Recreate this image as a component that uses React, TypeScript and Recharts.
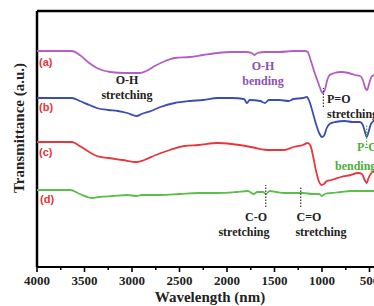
import React from 'react';
import { LineChart, Line, XAxis, YAxis, ReferenceLine } from 'recharts';

// Wavelength axis ticks (nm) – major labelled, minor unlabelled
const majorTicks = [4000, 3500, 3000, 2500, 2000, 1500, 1000, 500];
const allTicks = [4000, 3750, 3500, 3250, 3000, 2750, 2500, 2250, 2000, 1750, 1500, 1250, 1000, 750, 500];

// Series (a) – purple
const waveA = [4000, 3632, 3550, 3450, 3370, 3230, 3075, 2917, 2850, 2760, 2650, 2550, 2390, 2250, 2100, 1950, 1800, 1740, 1710, 1680, 1600, 1450, 1300, 1180, 1150, 1120, 1080, 1050, 1020, 995, 970, 945, 920, 870, 800, 720, 650, 600, 570, 545, 525, 505, 480, 450, 400];
const valA = [216, 216, 212, 204, 199, 195, 194, 194, 196, 201, 206, 209, 210, 212, 214, 215, 215, 214, 212, 214, 215, 215, 216, 216, 215, 207, 195, 187, 179, 174, 177, 187, 192, 194, 195, 194, 192, 191, 187, 179, 177, 183, 190, 192, 193];

// Series (b) – blue
const waveB = [4000, 3632, 3550, 3450, 3370, 3250, 3150, 3050, 2950, 2900, 2800, 2700, 2550, 2390, 2250, 2100, 1950, 1820, 1790, 1760, 1650, 1600, 1560, 1450, 1350, 1300, 1200, 1160, 1130, 1090, 1060, 1030, 1000, 975, 950, 920, 860, 760, 680, 600, 570, 545, 530, 510, 485, 450, 400];
const valB = [169, 169, 166, 162, 159, 157, 156, 154, 151, 153, 156, 160, 164, 166, 167, 169, 169, 168, 164, 167, 166, 164, 167, 167, 166, 168, 169, 170, 165, 152, 142, 134, 130, 132, 139, 143, 145, 146, 145, 145, 142, 134, 130, 135, 143, 146, 147];

// Series (c) – red
const waveC = [4000, 3632, 3550, 3450, 3370, 3250, 3100, 2950, 2870, 2750, 2600, 2450, 2300, 2100, 1950, 1800, 1700, 1550, 1400, 1300, 1200, 1150, 1120, 1090, 1060, 1030, 1005, 980, 950, 900, 800, 700, 620, 580, 550, 530, 510, 480, 450, 400];
const valC = [125, 125, 121, 115, 111, 109, 107, 105, 107, 112, 117, 121, 122, 124, 123, 121, 119, 117, 117, 120, 122, 124, 121, 109, 95, 85, 82, 83, 86, 87, 90, 92, 94, 93, 87, 84, 89, 94, 96, 97];

// Series (d) – green
const waveD = [4000, 3650, 3550, 3420, 3350, 3200, 3050, 2950, 2900, 2700, 2500, 2300, 2100, 1900, 1780, 1720, 1680, 1620, 1590, 1550, 1480, 1400, 1300, 1200, 1100, 1030, 1000, 970, 900, 800, 700, 600, 500, 400];
const valD = [77, 77, 73, 69, 70, 71, 72, 71, 72, 72, 73, 74, 74, 75, 76, 73, 75, 75, 73, 76, 75, 74, 74, 74, 73, 73, 71, 73, 74, 75, 76, 76, 76, 76];

// Band marker positions (nm) and extents (a.u.)
const markerPO = { w: 985, y1: 160, y2: 179 };
const markerPObend = { w: 530, y1: 122, y2: 142 };
const markerCO = { w: 1592, y1: 60, y2: 82 };
const markerCeqO = { w: 1224, y1: 60, y2: 80 };

const toData = (w: number[], v: number[]) => w.map((x, i) => ({ w: x, v: v[i] }));
const dataA = toData(waveA, valA);
const dataB = toData(waveB, valB);
const dataC = toData(waveC, valC);
const dataD = toData(waveD, valD);

const SERIF = "'Liberation Serif', 'Times New Roman', serif";
const SANS = "'Liberation Sans', Arial, sans-serif";

const Tick = (props: any) => {
  const { x, y, payload } = props;
  const major = majorTicks.includes(payload.value);
  return (
    <g>
      <line x1={x} y1={y} x2={x} y2={y + (major ? 5 : 3)} stroke="#000" strokeWidth={1.6} />
      {major && (
        <text x={x} y={y + 18} textAnchor="middle" fontFamily={SERIF} fontWeight="bold" fontSize={13} fill="#222">
          {payload.value}
        </text>
      )}
    </g>
  );
};

export default function App() {
  return (
    <div style={{ position: 'absolute', left: 0, top: 0, width: 374, height: 306, overflow: 'hidden', background: '#fff' }}>
      <LineChart width={400} height={306} margin={{ top: 11, left: 37, right: 21, bottom: 9 }}>
        <XAxis
          type="number"
          dataKey="w"
          domain={[400, 4000]}
          reversed
          allowDataOverflow
          ticks={allTicks}
          interval={0}
          tickLine={false}
          tickSize={0}
          tickMargin={0}
          tick={<Tick />}
          height={30}
          axisLine={{ stroke: '#000', strokeWidth: 2 }}
        />
        <YAxis
          type="number"
          dataKey="v"
          domain={[0, 256]}
          allowDataOverflow
          width={0}
          tick={false}
          tickLine={false}
          axisLine={false}
        />
        <ReferenceLine y={256} stroke="#000" strokeWidth={2.5} />
        <ReferenceLine x={4000} stroke="#000" strokeWidth={2.5} />
        <Line data={dataA} dataKey="v" stroke="#b25ec6" strokeWidth={1.8} dot={false} isAnimationActive={false} type="monotone" />
        <Line data={dataB} dataKey="v" stroke="#3b4db3" strokeWidth={1.8} dot={false} isAnimationActive={false} type="monotone" />
        <Line data={dataC} dataKey="v" stroke="#e8363c" strokeWidth={1.8} dot={false} isAnimationActive={false} type="monotone" />
        <Line data={dataD} dataKey="v" stroke="#5dbd4b" strokeWidth={1.8} dot={false} isAnimationActive={false} type="monotone" />
        <ReferenceLine segment={[{ x: markerPO.w, y: markerPO.y1 }, { x: markerPO.w, y: markerPO.y2 }]} stroke="#333" strokeWidth={1.2} strokeDasharray="1.5 1.5" />
        <ReferenceLine segment={[{ x: markerPObend.w, y: markerPObend.y1 }, { x: markerPObend.w, y: markerPObend.y2 }]} stroke="#4caf3a" strokeWidth={1.2} strokeDasharray="1.5 1.5" />
        <ReferenceLine segment={[{ x: markerCO.w, y: markerCO.y1 }, { x: markerCO.w, y: markerCO.y2 }]} stroke="#333" strokeWidth={1.2} strokeDasharray="1.5 1.5" />
        <ReferenceLine segment={[{ x: markerCeqO.w, y: markerCeqO.y1 }, { x: markerCeqO.w, y: markerCeqO.y2 }]} stroke="#333" strokeWidth={1.2} strokeDasharray="1.5 1.5" />
      </LineChart>
      <svg width={374} height={306} style={{ position: 'absolute', left: 0, top: 0, pointerEvents: 'none' }}>
        <text x={19} y={128} transform="rotate(-90 19 128)" textAnchor="middle" dominantBaseline="central" fontFamily={SERIF} fontWeight="bold" fontSize={15} fill="#222">
          Transmittance (a.u.)
        </text>
        <text x={210} y={302} textAnchor="middle" fontFamily={SERIF} fontWeight="bold" fontSize={15} fill="#222">
          Wavelength (nm)
        </text>
        <g fontFamily={SANS} fontWeight="bold" fontSize={11} fill="#e3343a">
          <text x={39} y={66}>(a)</text>
          <text x={39} y={111}>(b)</text>
          <text x={39} y={156}>(c)</text>
          <text x={40} y={203}>(d)</text>
        </g>
        <g fontFamily={SERIF} fontWeight="bold" fontSize={12} fill="#222">
          <text x={127} y={84} textAnchor="middle">O-H</text>
          <text x={127} y={99} textAnchor="middle">stretching</text>
          <text x={327} y={103}>P=O</text>
          <text x={327} y={118}>stretching</text>
          <text x={256} y={221} textAnchor="middle">C-O</text>
          <text x={244} y={236} textAnchor="middle">stretching</text>
          <text x={309} y={221} textAnchor="middle">C=O</text>
          <text x={321} y={236} textAnchor="middle">stretching</text>
        </g>
        <g fontFamily={SERIF} fontWeight="bold" fontSize={12} fill="#8a52b4">
          <text x={263} y={70} textAnchor="middle">O-H</text>
          <text x={263} y={85} textAnchor="middle">bending</text>
        </g>
        <g fontFamily={SERIF} fontWeight="bold" fontSize={12} fill="#4caf3a">
          <text x={357} y={151}>P-O</text>
          <text x={335} y={170}>bending</text>
        </g>
      </svg>
    </div>
  );
}
